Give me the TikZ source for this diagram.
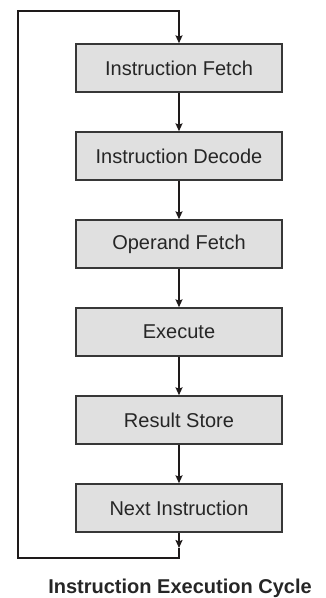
\documentclass[tikz,border=0pt]{standalone}
\usepackage{fontspec}
\setmainfont{Liberation Sans}
\usepackage{xcolor}
\usepackage{tikz}
\usetikzlibrary{positioning, arrows.meta}

\definecolor{boxfill}{RGB}{224,224,224}
\definecolor{boxline}{RGB}{55,55,55}
\definecolor{flowline}{RGB}{30,26,26}

\begin{document}
\begin{tikzpicture}[x=1pt, y=-1pt, font=\fontsize{20}{24}\selectfont,
    stagebox/.style={draw=boxline, line width=1.4pt, fill=boxfill,
      minimum width=206pt, minimum height=48pt, inner sep=0pt,
      text=black!85},
    flow/.style={draw=flowline, line width=2pt,
      -{Stealth[length=8pt, width=7pt, inset=1.5pt]}},
    node distance=38.6pt]
  \useasboundingbox (0,0) rectangle (325,598);

  % the six stages
  \node[stagebox] (fetch) at (179,68) {Instruction Fetch};
  \node[stagebox, below=of fetch] (decode) {Instruction Decode};
  \node[stagebox, below=of decode] (operand) {Operand Fetch};
  \node[stagebox, below=of operand] (execute) {Execute};
  \node[stagebox, below=of execute] (store) {Result Store};
  \node[stagebox, below=of store] (next) {Next Instruction};

  % loop back corners
  \coordinate (tipnext) at (179,548);
  \coordinate (loopbr) at (179,558);
  \coordinate (loopbl) at (18,558);
  \coordinate (looptl) at (18,11);
  \coordinate (looptr) at (179,11);

  \draw[flow] (fetch) -- (decode);
  \draw[flow] (decode) -- (operand);
  \draw[flow] (operand) -- (execute);
  \draw[flow] (execute) -- (store);
  \draw[flow] (store) -- (next);
  \draw[flow] (next) -- (tipnext);
  \draw[flow] (tipnext) -- (loopbr) -- (loopbl) -- (looptl) -- (looptr) -- (fetch);

  \node[anchor=base, font=\fontsize{20}{24}\selectfont\bfseries, text=black!85]
    (title) at (180,593.5) {Instruction Execution Cycle};
\end{tikzpicture}
\end{document}
